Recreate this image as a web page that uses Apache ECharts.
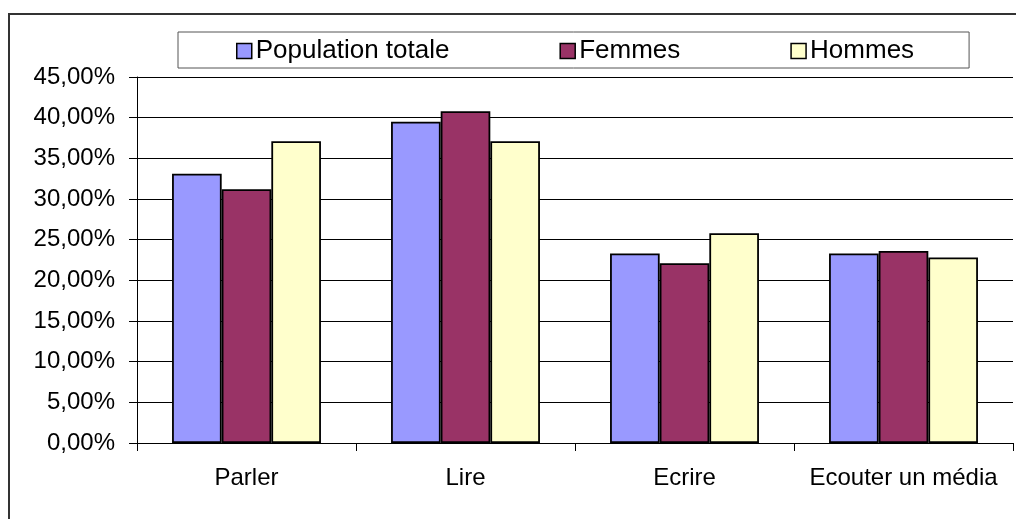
<!DOCTYPE html>
<html>
<head>
<meta charset="utf-8">
<script src="https://cdn.jsdelivr.net/npm/echarts@6/dist/echarts.min.js"></script>
<style>
  html, body { margin: 0; padding: 0; background: #fff; }
  #chart { width: 1016px; height: 519px; }
</style>
</head>
<body>
<div id="chart"></div>
<script>
// données (en %)
const categories = ['Parler', 'Lire', 'Ecrire', 'Ecouter un média'];
const seriesNames = ['Population totale', 'Femmes', 'Hommes'];
const populationTotale = [33.1, 39.5, 23.3, 23.3];
const femmes = [31.2, 40.8, 22.1, 23.6];
const hommes = [37.1, 37.1, 25.8, 22.8];
const yMin = 0;
const yMax = 45;
const yStep = 5;

const font = '"Liberation Sans", Arial, sans-serif';

function barSeries(name, data, color) {
  return {
    name: name,
    type: 'bar',
    data: data,
    barGap: '0%',
    barCategoryGap: '32%',
    itemStyle: {
      color: color,
      borderColor: '#000',
      borderWidth: 1.8,
    },
  };
}

const chart = echarts.init(document.getElementById('chart'));
chart.setOption({
  animation: false,
  textStyle: { fontFamily: font },
  graphic: [
    {
      type: 'rect',
      shape: { x: 9, y: 14, width: 1030, height: 540 },
      style: { fill: 'none', stroke: '#333', lineWidth: 2 },
      silent: true,
    },
  ],
  legend: {
    left: 178,
    top: 32,
    padding: [6, 55, 4, 58],
    itemGap: 110,
    itemWidth: 15,
    itemHeight: 15,
    borderColor: '#555',
    borderWidth: 1,
    icon: 'rect',
    itemStyle: { borderColor: '#000', borderWidth: 1.5 },
    textStyle: { fontFamily: font, fontSize: 26, color: '#000', padding: [0, 0, 0, -1] },
    data: seriesNames,
  },
  grid: {
    left: 137,
    right: 3,
    top: 77,
    bottom: 76,
    containLabel: false,
  },
  xAxis: {
    type: 'category',
    data: categories,
    axisLine: { show: true, lineStyle: { color: '#000', width: 1 } },
    axisTick: { show: true, alignWithLabel: false, length: 8, lineStyle: { color: '#000' } },
    axisLabel: { color: '#000', fontFamily: font, fontSize: 24, margin: 23, interval: 0 },
    splitLine: { show: false },
  },
  yAxis: {
    type: 'value',
    min: yMin,
    max: yMax,
    interval: yStep,
    axisLine: { show: true, lineStyle: { color: '#000', width: 1 } },
    axisTick: { show: true, inside: false, length: 8, lineStyle: { color: '#000' } },
    axisLabel: {
      color: '#000',
      fontFamily: font,
      fontSize: 24,
      margin: 22,
      formatter(v) {
        return v.toFixed(2).replace('.', ',') + '%';
      },
    },
    splitLine: { show: true, lineStyle: { color: '#000', width: 1 } },
  },
  series: [
    barSeries(seriesNames[0], populationTotale, '#9999FF'),
    barSeries(seriesNames[1], femmes, '#993366'),
    barSeries(seriesNames[2], hommes, '#FFFFCC'),
  ],
});
window.addEventListener('resize', () => { chart.resize(); });
</script>
</body>
</html>
